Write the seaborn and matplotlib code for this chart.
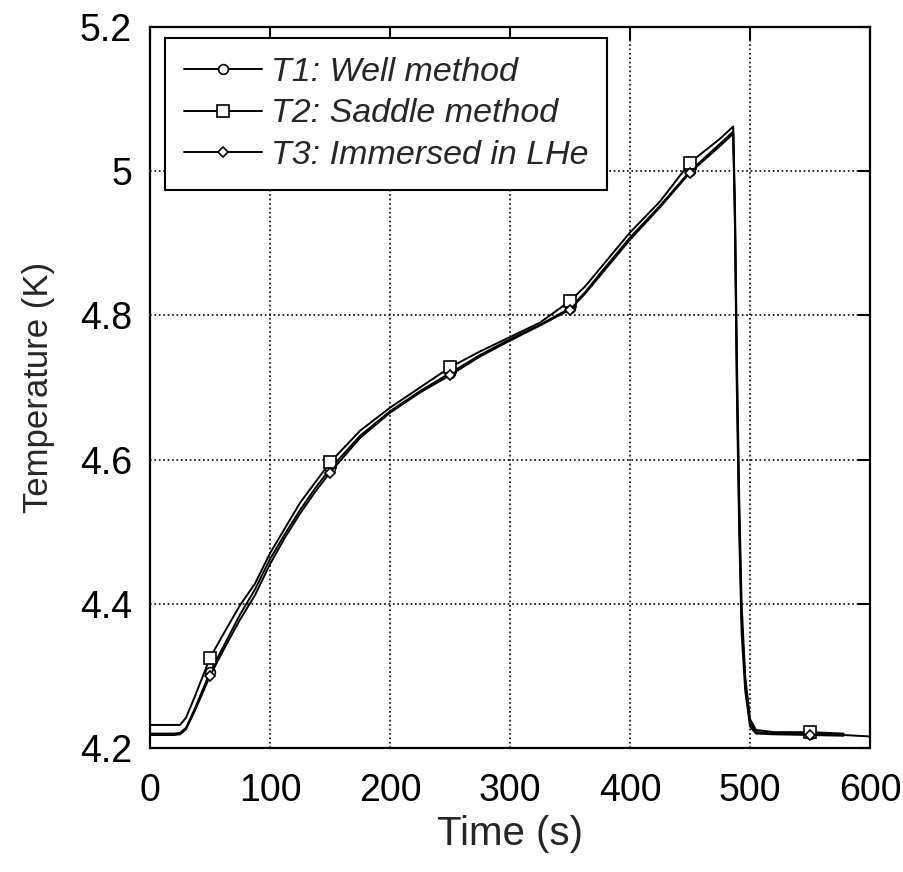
import numpy as np
import pandas as pd
import matplotlib
matplotlib.use("Agg")
import matplotlib.pyplot as plt
import seaborn as sns

# ---- data ----
time_s = [0, 20, 25, 30, 37.5, 50, 62.5, 75, 87.5, 100, 112.5, 125, 137.5, 150,
          175, 200, 225, 250, 275, 300, 325, 350, 362.5, 375, 400, 425, 450, 475,
          486, 487.5, 489, 491, 493, 496, 500, 505, 520, 550, 578, 600]
t1_well = [4.220, 4.220, 4.221, 4.228, 4.255, 4.305, 4.345, 4.385, 4.420, 4.462,
           4.497, 4.530, 4.560, 4.587, 4.633, 4.667, 4.695, 4.720, 4.745, 4.767,
           4.787, 4.810, 4.832, 4.858, 4.908, 4.952, 5.000, 5.038, 5.055, 4.930,
           4.720, 4.520, 4.380, 4.290, 4.235, 4.222, 4.220, 4.220, 4.218, 4.216]
t2_saddle = [4.232, 4.232, 4.232, 4.242, 4.272, 4.325, 4.362, 4.398, 4.428, 4.470,
             4.505, 4.540, 4.568, 4.596, 4.640, 4.672, 4.700, 4.728, 4.750, 4.770,
             4.790, 4.820, 4.840, 4.865, 4.915, 4.958, 5.012, 5.045, 5.062, 4.950,
             4.750, 4.550, 4.400, 4.300, 4.240, 4.225, 4.222, 4.222, 4.220, np.nan]
t3_lhe = [4.218, 4.218, 4.219, 4.226, 4.252, 4.300, 4.340, 4.378, 4.412, 4.455,
          4.492, 4.525, 4.555, 4.582, 4.630, 4.665, 4.693, 4.717, 4.743, 4.765,
          4.786, 4.808, 4.830, 4.855, 4.905, 4.950, 4.998, 5.035, 5.052, 4.920,
          4.700, 4.500, 4.360, 4.280, 4.230, 4.220, 4.219, 4.218, 4.217, np.nan]
marker_times = [50, 150, 250, 350, 450, 550]

series = [
    ("T1: Well method", t1_well, "o", 7),
    ("T2: Saddle method", t2_saddle, "s", 8),
    ("T3: Immersed in LHe", t3_lhe, "D", 5.5),
]

sns.set_style("white")
plt.rcParams["font.family"] = ["Liberation Sans", "DejaVu Sans"]

fig = plt.figure(figsize=(9.04, 8.72), dpi=100)
ax = fig.add_axes([150 / 904, 1 - 748 / 872, 720 / 904, 721 / 872])

mark_idx = [time_s.index(t) for t in marker_times]
for label, vals, mk, ms in series:
    df = pd.DataFrame({"t": time_s, "T": vals})
    sns.lineplot(data=df, x="t", y="T", ax=ax, color="black", linewidth=1.4,
                 marker=mk, markersize=ms, markevery=mark_idx,
                 markerfacecolor="white", markeredgecolor="black",
                 markeredgewidth=1.2, label=label, estimator=None, sort=False)

ax.set_xlim(0, 600)
ax.set_ylim(4.2, 5.2)
ax.set_xticks([0, 100, 200, 300, 400, 500, 600])
ax.set_xticklabels(["0", "100", "200", "300", "400", "500", "600"])
ax.set_yticks([4.2, 4.4, 4.6, 4.8, 5.0, 5.2])
ax.set_yticklabels(["4.2", "4.4", "4.6", "4.8", "5", "5.2"])
ax.grid(True, linestyle=":", color="black", linewidth=1.2)
ax.tick_params(axis="both", direction="in", length=9, width=1.5, colors="black",
               labelsize=27, top=True, right=True)
ax.tick_params(axis="x", pad=18)
ax.tick_params(axis="y", pad=13)
for sp in ax.spines.values():
    sp.set_color("black")
    sp.set_linewidth(1.6)

ax.set_xlabel("Time (s)", fontsize=29, labelpad=4)
ax.set_ylabel("Temperature (K)", fontsize=25, labelpad=18)

leg = ax.legend(loc="upper left", bbox_to_anchor=(0.021, 0.985), frameon=True,
                fancybox=False, edgecolor="black", framealpha=1,
                prop={"size": 24.5, "style": "italic"}, handlelength=2.3,
                handletextpad=0.25, labelspacing=0.32, borderpad=0.55,
                borderaxespad=0)
leg.get_frame().set_linewidth(1.5)

fig.savefig("out.png", dpi=100)
